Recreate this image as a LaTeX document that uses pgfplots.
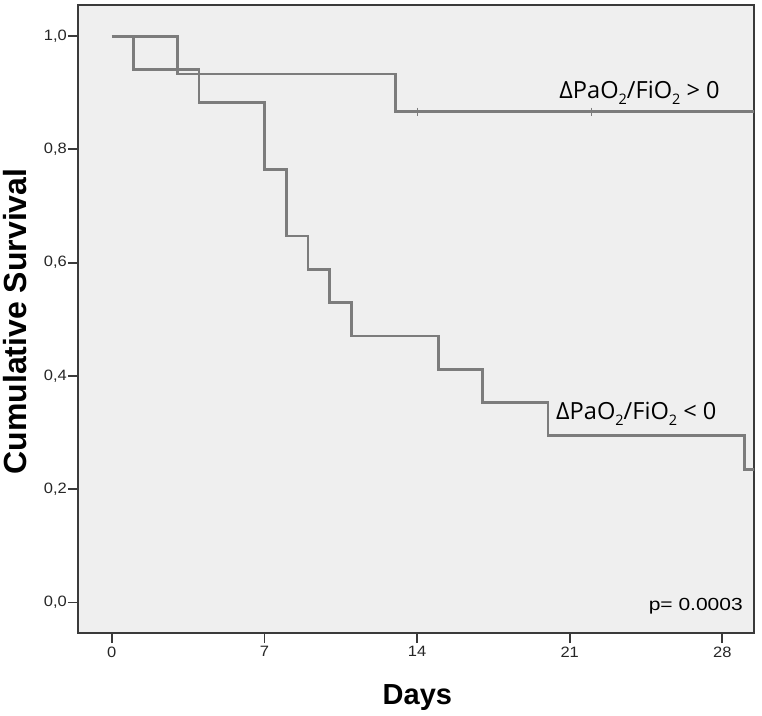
\documentclass[border=0pt]{standalone}
\usepackage{fontspec}
\setmainfont{Liberation Sans}
\newfontfamily\tickfont[FakeStretch=1.1]{Liberation Sans}
\newfontfamily\pfont[FakeStretch=1.2]{Liberation Sans}
\newfontfamily\annfont{Open Sans}
\usepackage{pgfplots}
\pgfplotsset{compat=1.18}
\definecolor{curve}{HTML}{7C7C7C}
\definecolor{framec}{HTML}{3A3A3A}
\definecolor{bgc}{HTML}{EFEFEF}
\newcommand{\sub}[1]{\raisebox{-5.5pt}{\fontsize{14.5}{15}\selectfont #1}}
\begin{document}
\begin{tikzpicture}
\begin{axis}[
  scale only axis, width=676pt, height=628pt,
  xmin=-1.55, xmax=29.45, ymin=-0.054, ymax=1.055,
  axis background/.style={fill=bgc},
  axis line style={line width=1.8pt, framec},
  xtick={0,7,14,21,28}, ytick={0,0.2,0.4,0.6,0.8,1.0},
  tick pos=left, tick align=outside, major tick length=10pt,
  every tick/.style={line width=1.8pt, framec},
  /pgf/number format/assume math mode=true,
  yticklabel style={/pgf/number format/fixed, /pgf/number format/fixed zerofill, /pgf/number format/precision=1, /pgf/number format/use comma, inner sep=1pt},
  ticklabel style={font=\tickfont\fontsize{15}{17}\selectfont, text=black!85},
  xlabel={Days}, ylabel={Cumulative Survival},
  xlabel style={at={(axis description cs:0.502,0)}, anchor=base, yshift=-71pt, inner sep=0pt, font=\bfseries\fontsize{29}{32}\selectfont},
  ylabel style={at={(axis description cs:-0.0769,0.496)}, anchor=base, inner sep=0pt, font=\bfseries\fontsize{32}{35}\selectfont},
]
\addplot[const plot, curve, line width=2.8pt] coordinates {(0,1)(3,0.9333)(13,0.8667)(30,0.8667)};
\addplot[const plot, curve, line width=2.8pt] coordinates {(0,1)(1,0.9412)(4,0.8824)(7,0.7647)(8,0.6471)(9,0.5882)(10,0.5294)(11,0.4706)(15,0.4118)(17,0.3529)(20,0.2941)(29,0.2353)(30,0.2353)};
\addplot[only marks, mark=|, mark size=4pt, mark options={line width=1pt, curve}] coordinates {(14,0.8667)(22,0.8667)};
\node[anchor=base west, inner sep=0pt, font=\annfont\fontsize{23.6}{26}\selectfont] at (axis cs:20.52,0.889) {ΔPaO\sub{2}/FiO\sub{2} > 0};
\node[anchor=base west, inner sep=0pt, font=\annfont\fontsize{23.6}{26}\selectfont] at (axis cs:20.37,0.3226) {ΔPaO\sub{2}/FiO\sub{2} < 0};
\node[anchor=base east, inner sep=0pt, font=\pfont\fontsize{17.5}{20}\selectfont] at ([xshift=-11pt,yshift=23pt]axis description cs:1,0) {p= 0.0003};
\end{axis}
\pgfresetboundingbox
\path (-78pt,-82pt) rectangle (684pt,633pt);
\end{tikzpicture}
\end{document}
